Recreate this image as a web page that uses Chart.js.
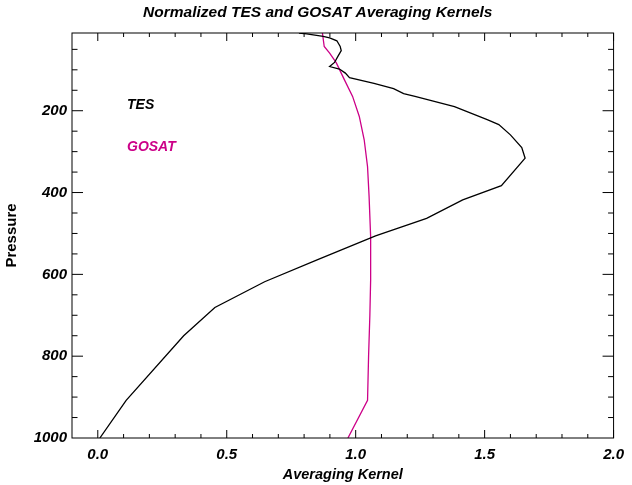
<!DOCTYPE html>
<html>
<head>
<meta charset="utf-8">
<script src="https://cdn.jsdelivr.net/npm/chart.js@4/dist/chart.umd.min.js"></script>
<style>
  body { margin: 0; background: #fff; }
  canvas { display: block; }
</style>
</head>
<body>
<canvas id="chart" width="632" height="485"></canvas>
<script>
// kernel profiles, top of atmosphere first
const tesPressure = [10, 12, 18, 22, 29, 43, 53, 67, 82, 92, 98, 108, 119, 133, 146, 158, 165, 190, 222, 234, 259, 290, 316, 383, 418, 463, 506, 565, 618, 681, 750, 908, 1000];
const tesKernel = [0.78, 0.81, 0.874, 0.899, 0.927, 0.94, 0.944, 0.931, 0.918, 0.899, 0.937, 0.96, 0.976, 1.071, 1.147, 1.186, 1.23, 1.383, 1.51, 1.555, 1.6, 1.644, 1.657, 1.565, 1.415, 1.275, 1.077, 0.848, 0.647, 0.454, 0.333, 0.11, 0.008];

const gosatPressure = [10, 43, 59, 83, 124, 165, 214, 271, 337, 410, 508, 614, 700, 800, 908, 1000];
const gosatKernel = [0.871, 0.878, 0.899, 0.925, 0.956, 0.988, 1.014, 1.033, 1.046, 1.052, 1.058, 1.058, 1.055, 1.05, 1.046, 0.97];

const xTickValues = [0, 0.5, 1.0, 1.5, 2.0];
const yTickValues = [200, 400, 600, 800, 1000];

const seriesNames = ['TES', 'GOSAT'];
const seriesColors = ['#000000', '#cc0088'];
const chartTitle = 'Normalized TES and GOSAT Averaging Kernels';

const toPoints = (ks, ps) => ks.map((k, i) => ({ x: k, y: ps[i] }));

const FAMILY = '"Liberation Sans", Arial, sans-serif';
const boldItalic = (size) => ({ family: FAMILY, size, weight: 'bold', style: 'italic' });

// IDL style frame: box on all four sides, ticks pointing inward
const frameTicks = {
  id: 'frameTicks',
  afterDatasetsDraw(chart) {
    const { ctx, chartArea: a, scales: { x, y } } = chart;
    ctx.save();
    ctx.strokeStyle = '#000';
    ctx.lineWidth = 1;
    ctx.strokeRect(a.left, a.top, a.right - a.left, a.bottom - a.top);
    ctx.beginPath();
    for (let i = 0; i <= 20; i++) {
      const px = x.getPixelForValue(i / 10);
      const len = i % 5 === 0 ? 8 : 4;
      ctx.moveTo(px, a.bottom); ctx.lineTo(px, a.bottom - len);
      ctx.moveTo(px, a.top); ctx.lineTo(px, a.top + len);
    }
    for (let v = 50; v < 1000; v += 50) {
      const py = y.getPixelForValue(v);
      const len = v % 200 === 0 ? 11 : 5.5;
      ctx.moveTo(a.left, py); ctx.lineTo(a.left + len, py);
      ctx.moveTo(a.right, py); ctx.lineTo(a.right - len, py);
    }
    ctx.stroke();

    ctx.textBaseline = 'middle';

    // title, sitting a bit left of the plot centre like the original
    ctx.font = 'italic bold 15.5px ' + FAMILY;
    ctx.textAlign = 'center';
    ctx.fillStyle = '#000';
    ctx.fillText(chartTitle, (a.left + a.right) / 2 - 25, 13);

    // series labels inside the plot
    ctx.font = 'italic bold 14px ' + FAMILY;
    ctx.textAlign = 'left';
    seriesNames.forEach((name, i) => {
      ctx.fillStyle = seriesColors[i];
      ctx.fillText(name, a.left + 55, a.top + 72 + i * 42);
    });
    ctx.restore();
  }
};

new Chart(document.getElementById('chart'), {
  type: 'scatter',
  data: {
    datasets: [
      {
        label: seriesNames[0],
        data: toPoints(tesKernel, tesPressure),
        showLine: true,
        borderColor: seriesColors[0],
        borderWidth: 1.3,
        pointRadius: 0,
        tension: 0
      },
      {
        label: seriesNames[1],
        data: toPoints(gosatKernel, gosatPressure),
        showLine: true,
        borderColor: seriesColors[1],
        borderWidth: 1.3,
        pointRadius: 0,
        tension: 0
      }
    ]
  },
  options: {
    responsive: false,
    devicePixelRatio: 1,
    animation: false,
    layout: { padding: { left: 0, right: 10.5, top: 33, bottom: 0 } },
    plugins: {
      legend: { display: false },
      tooltip: { enabled: false },
      title: { display: false }
    },
    scales: {
      x: {
        type: 'linear',
        min: -0.1,
        max: 2.0,
        afterBuildTicks: (s) => { s.ticks = xTickValues.map(v => ({ value: v })); },
        afterFit: (s) => { s.height = 47; },
        grid: { display: false, drawTicks: false },
        border: { display: false },
        ticks: {
          color: '#000',
          font: boldItalic(15),
          padding: 8,
          maxRotation: 0,
          callback: (v) => v.toFixed(1)
        },
        title: {
          display: true,
          text: 'Averaging Kernel',
          color: '#000',
          font: boldItalic(14.5),
          padding: { top: 0, bottom: 1 }
        }
      },
      y: {
        type: 'linear',
        reverse: true,
        min: 10,
        max: 1000,
        afterBuildTicks: (s) => { s.ticks = yTickValues.map(v => ({ value: v })); },
        afterFit: (s) => { s.width = 72; },
        grid: { display: false, drawTicks: false },
        border: { display: false },
        ticks: {
          color: '#000',
          font: boldItalic(15),
          padding: 5,
          callback: (v) => String(v)
        },
        title: {
          display: true,
          text: 'Pressure',
          color: '#000',
          font: { family: FAMILY, size: 15, weight: 'bold' },
          padding: { top: 3, bottom: 0 }
        }
      }
    }
  },
  plugins: [frameTicks]
});
</script>
</body>
</html>
